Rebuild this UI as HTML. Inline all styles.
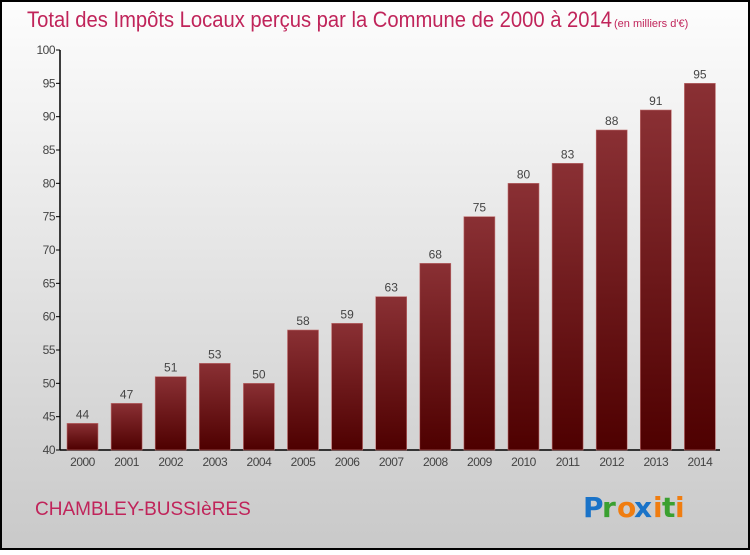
<!DOCTYPE html>
<html><head><meta charset="utf-8"><style>
body{margin:0;width:750px;height:550px;overflow:hidden;font-family:"Liberation Sans",sans-serif}
</style></head><body>
<svg width="750" height="550" xmlns="http://www.w3.org/2000/svg">
<defs>
<linearGradient id="bg" x1="0" y1="0" x2="0" y2="1"><stop offset="0" stop-color="#fdfdfd"/><stop offset="1" stop-color="#c9c9c9"/></linearGradient>
<linearGradient id="bar" x1="0" y1="0" x2="0" y2="1"><stop offset="0" stop-color="#8a3034"/><stop offset="1" stop-color="#4e0000"/></linearGradient>
</defs>
<rect x="1" y="1" width="748" height="548" fill="url(#bg)" stroke="#000" stroke-width="2"/>
<text x="27" y="27" font-size="22" fill="#c0245a" textLength="585" lengthAdjust="spacingAndGlyphs">Total des Impôts Locaux perçus par la Commune de 2000 à 2014</text>
<text x="614" y="27" font-size="11" fill="#c0245a">(en milliers d'€)</text>
<g id="axes"></g>
<g id="bars"></g>
<text x="35" y="515" font-size="19" fill="#c0245a">CHAMBLEY-BUSSIèRES</text>
<g font-size="28" font-weight="bold" font-family="'DejaVu Sans',sans-serif">
<text x="583" y="517" fill="#1a73c8">P</text><text x="602" y="517" fill="#3aa030">r</text><text x="617" y="517" fill="#f07d10">o</text><text x="634" y="517" fill="#1a73c8">x</text><text x="653" y="517" fill="#f07d10">i</text><text x="662" y="517" fill="#3aa030">t</text><text x="675" y="517" fill="#f07d10">i</text>
</g>
</svg>
<script>
const years=["2000","2001","2002","2003","2004","2005","2006","2007","2008","2009","2010","2011","2012","2013","2014"];
const values=[44,47,51,53,50,58,59,63,68,75,80,83,88,91,95];
const yTicks=[40,45,50,55,60,65,70,75,80,85,90,95,100];
const NS="http://www.w3.org/2000/svg";
const y=v=>450-(v-40)*400/60;
const x=i=>82.5+i*44.1;
function mk(t,a,p){const e=document.createElementNS(NS,t);for(const k in a)e.setAttribute(k,a[k]);p.appendChild(e);return e;}
const ax=document.getElementById('axes'),bg=document.getElementById('bars');
let l=mk('line',{x1:60,y1:50,x2:60,y2:450,stroke:'#000','stroke-width':1.5},ax);


l=mk('line',{x1:60,y1:450,x2:720,y2:450,stroke:'#000','stroke-width':1.5},ax);


yTicks.forEach(v=>{
 const tk=mk('line',{x1:56,y1:y(v),x2:60,y2:y(v),stroke:'#000'},ax);
 
 
 const t=mk('text',{x:55,y:y(v)+4,'font-size':12,fill:'#444','text-anchor':'end','letter-spacing':'-0.5'},ax);
 t.textContent=v;
 
 
});
years.forEach((yr,i)=>{
 const r=mk('rect',{x:x(i)-15.5,y:y(values[i]),width:31,height:450-y(values[i]),fill:'url(#bar)',stroke:'#c07070','stroke-width':0.6},bg);
 
 
 const v=mk('text',{x:x(i),y:y(values[i])-5,'font-size':12,fill:'#444','text-anchor':'middle'},bg);
 v.textContent=values[i];
 
 
 const t=mk('text',{x:x(i),y:466,'font-size':12,fill:'#444','text-anchor':'middle','letter-spacing':'-0.5'},bg);
 t.textContent=yr;
 
 
});
</script>
</body></html>
